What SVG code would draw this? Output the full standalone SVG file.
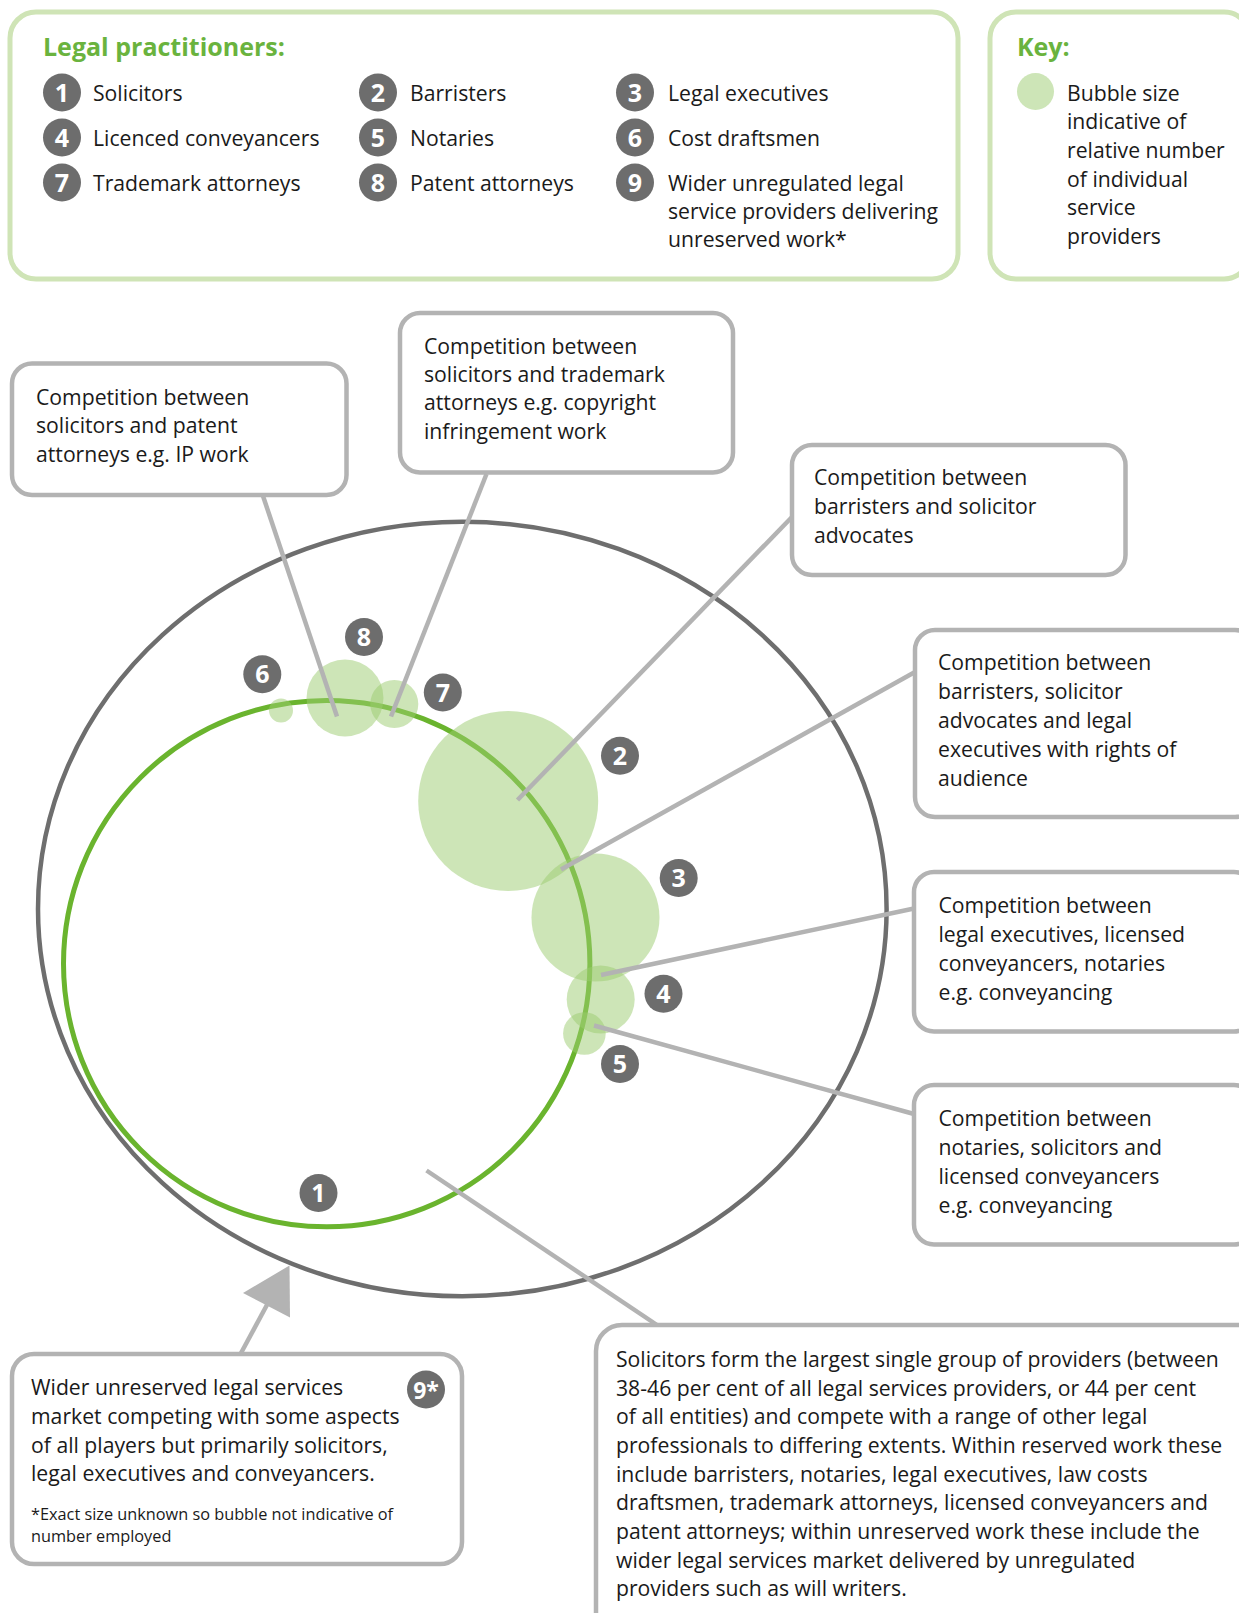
<svg xmlns="http://www.w3.org/2000/svg" width="1239" height="1613" viewBox="0 0 1239 1613">
<style>
.t{font-family:"Open Sans","Liberation Sans",sans-serif;font-size:21.2px;fill:#1a1a1a}
.sm{font-size:16.3px}
.title{font-family:"Open Sans","Liberation Sans",sans-serif;font-size:25px;font-weight:700;fill:#6ab33e}
.lg{fill:#fff;stroke:#cfe4b6;stroke-width:5}
.box{fill:#fff;stroke:#b3b3b3;stroke-width:4.5}
.bd{fill:#6d6d6d}
.bn{font-family:"Open Sans","Liberation Sans",sans-serif;font-size:25px;font-weight:700;fill:#fff;text-anchor:middle}
.bub{fill:#9ccc6f;opacity:0.5}
.con{stroke:#b3b3b3;stroke-width:4.5;fill:none}
</style>
<rect width="1239" height="1613" fill="#fff"/>

<g id="legend">
<rect class="lg" x="10" y="12" width="948" height="267" rx="26"/>
<text class="title" x="43" y="56">Legal practitioners:</text>
<g id="leg1"><circle class="bd" cx="62" cy="92.5" r="19"/><text class="bn" x="62" y="101.5">1</text><text class="t" x="93" y="101">Solicitors</text></g>
<g id="leg2"><circle class="bd" cx="378" cy="92.5" r="19"/><text class="bn" x="378" y="101.5">2</text><text class="t" x="410" y="101">Barristers</text></g>
<g id="leg3"><circle class="bd" cx="635" cy="92.5" r="19"/><text class="bn" x="635" y="101.5">3</text><text class="t" x="668" y="101">Legal executives</text></g>
<g id="leg4"><circle class="bd" cx="62" cy="137.5" r="19"/><text class="bn" x="62" y="146.5">4</text><text class="t" x="93" y="145.5">Licenced conveyancers</text></g>
<g id="leg5"><circle class="bd" cx="378" cy="137.5" r="19"/><text class="bn" x="378" y="146.5">5</text><text class="t" x="410" y="145.5">Notaries</text></g>
<g id="leg6"><circle class="bd" cx="635" cy="137.5" r="19"/><text class="bn" x="635" y="146.5">6</text><text class="t" x="668" y="145.5">Cost draftsmen</text></g>
<g id="leg7"><circle class="bd" cx="62" cy="182.5" r="19"/><text class="bn" x="62" y="191.5">7</text><text class="t" x="93" y="190.5">Trademark attorneys</text></g>
<g id="leg8"><circle class="bd" cx="378" cy="182.5" r="19"/><text class="bn" x="378" y="191.5">8</text><text class="t" x="410" y="190.5">Patent attorneys</text></g>
<g id="leg9"><circle class="bd" cx="635" cy="182.5" r="19"/><text class="bn" x="635" y="191.5">9</text>
<text class="t" x="668" y="190.5">Wider unregulated legal</text>
<text class="t" x="668" y="218.5">service providers delivering</text>
<text class="t" x="668" y="246.5">unreserved work*</text></g>
</g>

<g id="key">
<rect class="lg" x="990" y="12" width="260" height="267" rx="26"/>
<text class="title" x="1017" y="56">Key:</text>
<circle cx="1035.5" cy="91.5" r="18.5" fill="#cde5b7"/>
<text class="t" x="1067" y="100.5">Bubble size</text>
<text class="t" x="1067" y="129">indicative of</text>
<text class="t" x="1067" y="157.5">relative number</text>
<text class="t" x="1067" y="186.5">of individual</text>
<text class="t" x="1067" y="215">service</text>
<text class="t" x="1067" y="243.5">providers</text>
</g>

<g id="market">
<ellipse cx="462.3" cy="909" rx="424.3" ry="387.2" fill="none" stroke="#6e6e6e" stroke-width="4.5"/>
</g>
<g id="solicitors">
<circle cx="326.7" cy="963.6" r="263.2" fill="none" stroke="#6ab42e" stroke-width="5"/>
<circle class="bd" cx="318.5" cy="1193" r="19"/><text class="bn" x="318.5" y="1202">1</text>
</g>
<g id="bubble6"><circle class="bub" cx="281" cy="710.5" r="12"/><circle class="bd" cx="262.3" cy="674.2" r="19"/><text class="bn" x="262.3" y="683.2">6</text></g>
<g id="bubble8"><circle class="bub" cx="345" cy="698" r="38.5"/><circle class="bd" cx="364" cy="637" r="19"/><text class="bn" x="364" y="646">8</text></g>
<g id="bubble7"><circle class="bub" cx="394.3" cy="704" r="24"/><circle class="bd" cx="442.8" cy="692.5" r="19"/><text class="bn" x="442.8" y="701.5">7</text></g>
<g id="bubble2"><circle class="bub" cx="508.2" cy="801" r="90"/><circle class="bd" cx="620" cy="755.8" r="19"/><text class="bn" x="620" y="764.8">2</text></g>
<g id="bubble3"><circle class="bub" cx="595.5" cy="917.5" r="64"/><circle class="bd" cx="678.7" cy="878" r="19"/><text class="bn" x="678.7" y="887">3</text></g>
<g id="bubble4"><circle class="bub" cx="600.7" cy="999.5" r="34"/><circle class="bd" cx="663.5" cy="993.8" r="19"/><text class="bn" x="663.5" y="1002.8">4</text></g>
<g id="bubble5"><circle class="bub" cx="584.4" cy="1033.5" r="21.3"/><circle class="bd" cx="620" cy="1064" r="19"/><text class="bn" x="620" y="1073">5</text></g>

<g id="connectors">
<line class="con" x1="263" y1="496" x2="337" y2="716.5"/>
<line class="con" x1="486.5" y1="474" x2="391" y2="716.5"/>
<line class="con" x1="791.5" y1="517.5" x2="517.5" y2="800"/>
<line class="con" x1="915" y1="672" x2="561" y2="869.5"/>
<line class="con" x1="914" y1="908.5" x2="601" y2="975"/>
<line class="con" x1="914" y1="1114" x2="594" y2="1025.5"/>
<line class="con" x1="426.5" y1="1170.5" x2="657" y2="1325"/>
<line class="con" x1="240.5" y1="1354" x2="268" y2="1303"/>
<polygon points="289.5,1265.5 243,1293 290,1317.5" fill="#b3b3b3"/>
</g>

<g id="callout-patent">
<rect class="box" x="12" y="363.5" width="334.5" height="131.5" rx="20"/>
<text class="t" x="36" y="405">Competition between</text>
<text class="t" x="36" y="433">solicitors and patent</text>
<text class="t" x="36" y="461.5">attorneys e.g. IP work</text>
</g>
<g id="callout-trademark">
<rect class="box" x="400" y="313" width="333" height="159.5" rx="20"/>
<text class="t" x="424" y="353.5">Competition between</text>
<text class="t" x="424" y="382">solicitors and trademark</text>
<text class="t" x="424" y="410">attorneys e.g. copyright</text>
<text class="t" x="424" y="438.5">infringement work</text>
</g>
<g id="callout-advocates">
<rect class="box" x="792" y="445" width="333.5" height="130" rx="20"/>
<text class="t" x="814" y="485">Competition between</text>
<text class="t" x="814" y="513.5">barristers and solicitor</text>
<text class="t" x="814" y="542.5">advocates</text>
</g>
<g id="callout-audience">
<rect class="box" x="915" y="630" width="340" height="187" rx="20"/>
<text class="t" x="938" y="670">Competition between</text>
<text class="t" x="938" y="699">barristers, solicitor</text>
<text class="t" x="938" y="728">advocates and legal</text>
<text class="t" x="938" y="757">executives with rights of</text>
<text class="t" x="938" y="786">audience</text>
</g>
<g id="callout-conveyancing1">
<rect class="box" x="914" y="872" width="340" height="159.5" rx="20"/>
<text class="t" x="938.5" y="913">Competition between</text>
<text class="t" x="938.5" y="941.5">legal executives, licensed</text>
<text class="t" x="938.5" y="970.5">conveyancers, notaries</text>
<text class="t" x="938.5" y="999.5">e.g. conveyancing</text>
</g>
<g id="callout-conveyancing2">
<rect class="box" x="914" y="1085" width="340" height="159.5" rx="20"/>
<text class="t" x="938.5" y="1126">Competition between</text>
<text class="t" x="938.5" y="1154.5">notaries, solicitors and</text>
<text class="t" x="938.5" y="1183.5">licensed conveyancers</text>
<text class="t" x="938.5" y="1212.5">e.g. conveyancing</text>
</g>
<g id="callout-wider">
<rect class="box" x="12" y="1354" width="450" height="210" rx="22"/>
<text class="t" x="31" y="1395">Wider unreserved legal services</text>
<text class="t" x="31" y="1423.5">market competing with some aspects</text>
<text class="t" x="31" y="1452.5">of all players but primarily solicitors,</text>
<text class="t" x="31" y="1481">legal executives and conveyancers.</text>
<text class="t sm" x="31" y="1520">*Exact size unknown so bubble not indicative of</text>
<text class="t sm" x="31" y="1541.5">number employed</text>
<circle class="bd" cx="426" cy="1389.5" r="19"/><text class="bn" x="426" y="1398.5" style="font-size:23px">9*</text>
</g>
<g id="callout-solicitors">
<rect class="box" x="596" y="1325" width="670" height="320" rx="26"/>
<text class="t" x="616" y="1366.5">Solicitors form the largest single group of providers (between</text>
<text class="t" x="616" y="1395.5">38-46 per cent of all legal services providers, or 44 per cent</text>
<text class="t" x="616" y="1424">of all entities) and compete with a range of other legal</text>
<text class="t" x="616" y="1452.5">professionals to differing extents. Within reserved work these</text>
<text class="t" x="616" y="1481.5">include barristers, notaries, legal executives, law costs</text>
<text class="t" x="616" y="1510">draftsmen, trademark attorneys, licensed conveyancers and</text>
<text class="t" x="616" y="1539">patent attorneys; within unreserved work these include the</text>
<text class="t" x="616" y="1567.5">wider legal services market delivered by unregulated</text>
<text class="t" x="616" y="1596">providers such as will writers.</text>
</g>
</svg>
